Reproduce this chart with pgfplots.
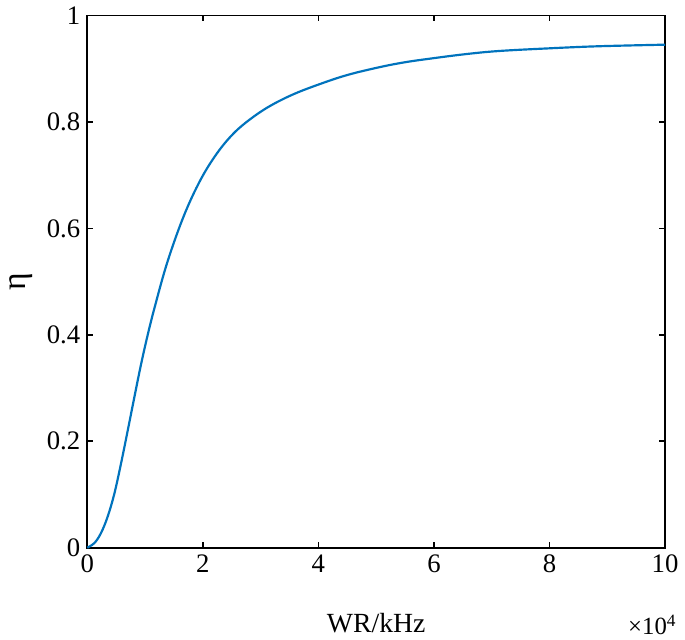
\documentclass[border=0pt]{standalone}
\usepackage{fontspec}
\setmainfont{Liberation Serif}
\usepackage{pgfplots}
\pgfplotsset{compat=1.18}
\definecolor{mblue}{rgb}{0.0,0.45,0.74}
\begin{document}
\begin{tikzpicture}
\begin{axis}[
  scale only axis,
  width=292pt, height=269pt,
  xmin=0, xmax=10, ymin=0, ymax=1,
  xtick={0,2,4,6,8,10},
  ytick={0,0.2,0.4,0.6,0.8,1},
  yticklabels={0,0.2,0.4,0.6,0.8,1},
  tick align=inside,
  major tick length=3pt,
  tick style={black, line width=0.8pt},
  axis line style={black, line width=0.9pt},
  /pgf/number format/assume math mode=true,
  ticklabel style={font=\fontsize{13.5}{16}\selectfont},
  xlabel={WR/kHz},
  ylabel={η},
  label style={font=\fontsize{14}{16}\selectfont},
  xlabel style={at={(axis description cs:0.5,0)}, anchor=base, yshift=-43pt},
  ylabel style={at={(axis description cs:-0.114,0.5)}, anchor=center, inner sep=5pt, font=\fontsize{17}{19}\selectfont},
  clip=false,
]
\addplot[mblue, line width=1.1pt, smooth, tension=0.6] coordinates {
(0,0) (0.126,0.009) (0.24,0.028) (0.355,0.059) (0.47,0.102) (0.584,0.158)
(0.70,0.22) (0.81,0.280) (0.928,0.343) (1.04,0.397) (1.16,0.449)
(1.385,0.536) (1.67,0.623) (1.96,0.691) (2.246,0.741) (2.53,0.778)
(2.82,0.805) (3.15,0.829) (3.55,0.851) (4.0,0.870) (4.5,0.888)
(5.07,0.903) (5.5,0.912) (5.95,0.919) (6.53,0.927)
(7.11,0.933) (7.97,0.938) (8.84,0.942) (10,0.945)
};
\node[anchor=base east, inner sep=0pt, font=\fontsize{12.5}{14}\selectfont] at ([xshift=6pt, yshift=-44pt]rel axis cs:1,0) {×10\textsuperscript{4}};
\end{axis}
\end{tikzpicture}
\end{document}
